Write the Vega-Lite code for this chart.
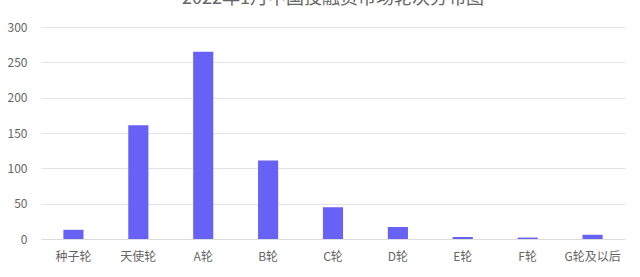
{
  "$schema": "https://vega.github.io/schema/vega-lite/v6.json",
  "autosize": {"type": "none"},
  "width": 584,
  "height": 212,
  "padding": {"left": 41, "top": 27, "right": 15, "bottom": 38},
  "background": "white",
  "title": {
    "text": "2022年1月中国投融资市场轮次分布图",
    "anchor": "middle",
    "fontSize": 18,
    "fontWeight": "normal",
    "font": "Noto Sans CJK SC",
    "color": "#666666",
    "offset": 13
  },
  "data": {
    "values": [
      {"round": "种子轮", "count": 13},
      {"round": "天使轮", "count": 161},
      {"round": "A轮", "count": 265},
      {"round": "B轮", "count": 111},
      {"round": "C轮", "count": 45},
      {"round": "D轮", "count": 17},
      {"round": "E轮", "count": 3},
      {"round": "F轮", "count": 2},
      {"round": "G轮及以后", "count": 6}
    ]
  },
  "mark": {"type": "bar", "color": "#6762F5"},
  "encoding": {
    "x": {
      "field": "round",
      "type": "nominal",
      "sort": null,
      "scale": {"paddingInner": 0.69, "paddingOuter": 0.345},
      "axis": {
        "title": null,
        "labelAngle": 0,
        "labelFont": "Noto Sans CJK SC",
        "labelFontSize": 12,
        "labelColor": "#666666",
        "labelPadding": 12,
        "ticks": false,
        "domainColor": "#dcdcdc"
      }
    },
    "y": {
      "field": "count",
      "type": "quantitative",
      "scale": {"domain": [0, 300]},
      "axis": {
        "title": null,
        "values": [0, 50, 100, 150, 200, 250, 300],
        "labelFont": "Noto Sans CJK SC",
        "labelFontSize": 12,
        "labelColor": "#666666",
        "labelPadding": 14,
        "ticks": false,
        "domain": false,
        "gridColor": "#e3e3e3"
      }
    }
  },
  "config": {"view": {"stroke": null}}
}
